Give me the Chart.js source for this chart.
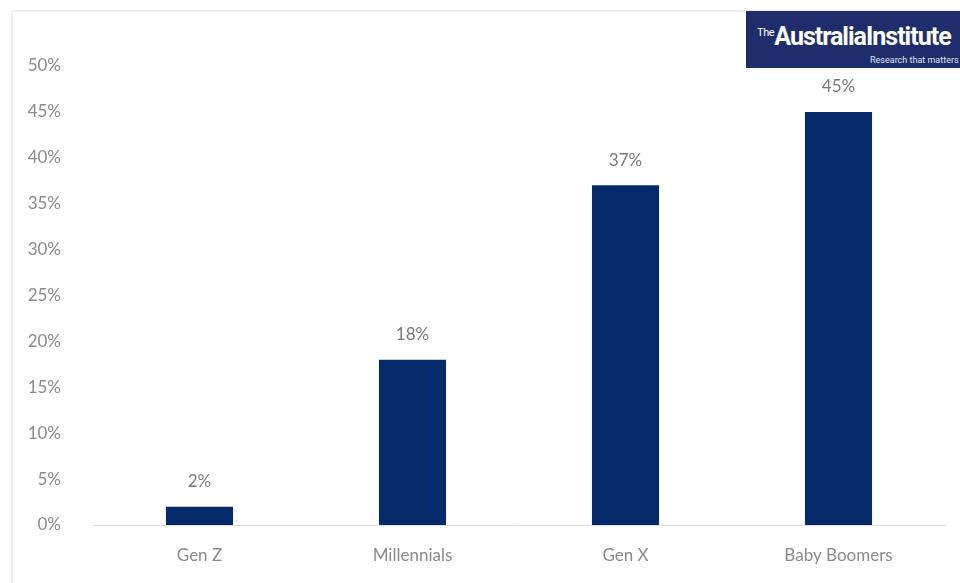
<!DOCTYPE html>
<html>
<head>
<meta charset="utf-8">
<script src="https://cdn.jsdelivr.net/npm/chart.js@4"></script>
<style>
  html, body { margin: 0; padding: 0; background: #fff; }
  #wrap { position: relative; width: 960px; height: 583px; overflow: hidden; }
  #frame { position: absolute; left: 11px; top: 10px; right: -5px; bottom: -5px;
           border-left: 2px solid #eeeeee; border-top: 2px solid #eeeeee; }
  #logo { position: absolute; left: 746px; top: 11px; width: 220px; height: 57px;
          background: #1f2d6c; color: #fff; font-family: "Liberation Sans Narrow", "Roboto", sans-serif; }
  #logo .name { position: absolute; left: 11px; top: 11px; font-size: 25px; font-weight: bold;
                letter-spacing: -1px; white-space: nowrap; }
  #logo .name sup { font-size: 11px; font-weight: normal; letter-spacing: -0.4px; vertical-align: 9px; }
  #logo .tag { position: absolute; left: 124px; top: 44px; font-size: 9px; white-space: nowrap; color: #dfe3f0; }
  canvas { position: absolute; left: 0; top: 0; }
</style>
</head>
<body>
<div id="wrap">
  <div id="frame"></div>
  <canvas id="genChart" width="960" height="583"></canvas>
  <div id="logo"><span class="name"><sup>The</sup>AustraliaInstitute</span><span class="tag">Research that matters</span></div>
</div>
<script>
const generations = ['Gen Z', 'Millennials', 'Gen X', 'Baby Boomers'];
const shares = [2, 18, 37, 45];
const yTicks = [0, 5, 10, 15, 20, 25, 30, 35, 40, 45, 50];

const fontFamily = 'Lato, "Open Sans", sans-serif';
const labelGray = '#8a8a8a';

// Percentage labels above each bar
const valueLabels = {
    id: 'valueLabels',
    afterDatasetsDraw(chart) {
        const ctx = chart.ctx;
        const meta = chart.getDatasetMeta(0);
        ctx.save();
        ctx.font = '17px ' + fontFamily;
        ctx.fillStyle = '#7a7a7a';
        ctx.textAlign = 'center';
        ctx.textBaseline = 'middle';
        meta.data.forEach((bar, i) => {
            ctx.fillText(shares[i] + '%', bar.x, bar.y - 25);
        });
        ctx.restore();
    }
};

new Chart(document.getElementById('genChart').getContext('2d'), {
    type: 'bar',
    data: {
        labels: generations,
        datasets: [{
            data: shares,
            backgroundColor: '#06296a',
            barPercentage: 0.315,
            categoryPercentage: 1
        }]
    },
    options: {
        responsive: false,
        animation: false,
        layout: { padding: { top: 66, right: 15, bottom: 0, left: 0 } },
        plugins: {
            legend: { display: false },
            tooltip: { enabled: false }
        },
        scales: {
            x: {
                afterFit: scale => { scale.height = 58; },
                grid: { display: false },
                border: { display: true, color: '#dcdcdc', width: 1 },
                ticks: { color: labelGray, font: { family: fontFamily, size: 17 }, padding: 12 }
            },
            y: {
                min: 0,
                max: 50,
                afterBuildTicks: scale => { scale.ticks = yTicks.map(v => ({ value: v })); },
                afterFit: scale => { scale.width = 93; },
                grid: { display: false },
                border: { display: false },
                ticks: {
                    color: labelGray,
                    font: { family: fontFamily, size: 17 },
                    padding: 24,
                    callback: v => v + '%'
                }
            }
        }
    },
    plugins: [valueLabels]
});
</script>
</body>
</html>
